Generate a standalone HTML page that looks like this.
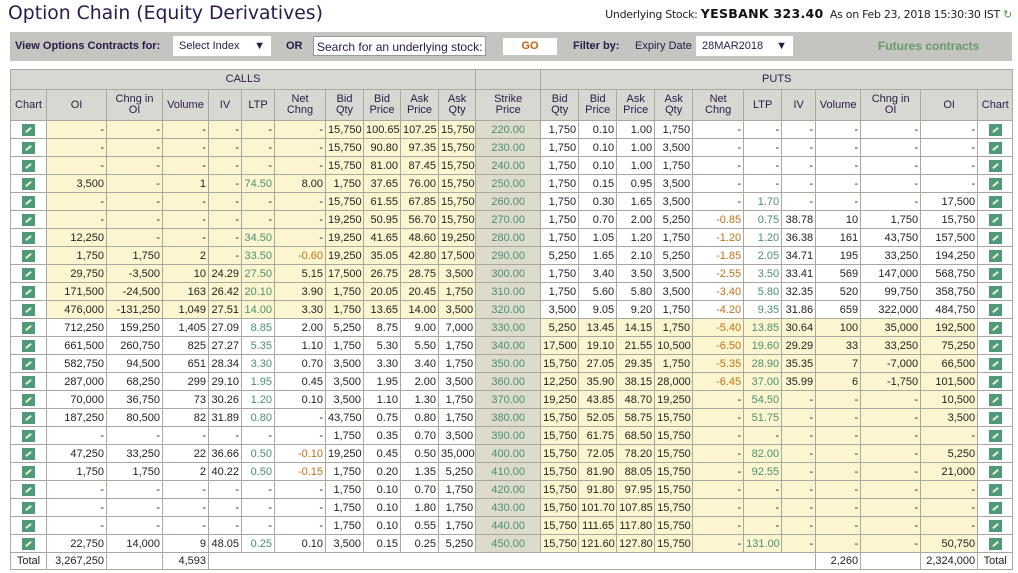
<!DOCTYPE html>
<html><head><meta charset="utf-8">
<style>
*{box-sizing:border-box}
body{margin:0;width:1018px;height:573px;overflow:hidden;background:#fff;font-family:"Liberation Sans",sans-serif;color:#222}
#title{position:absolute;left:8px;top:3px;font-size:18.8px;color:#2a1a4a;font-family:"DejaVu Sans",sans-serif}
#under{position:absolute;right:6px;top:6px;font-size:11px;color:#222;font-family:"DejaVu Sans",sans-serif;letter-spacing:-0.3px}
#under b{font-size:12.5px;color:#111;letter-spacing:.3px}
#bar{position:absolute;left:10px;top:32px;width:1002px;height:29px;background:#c4c4c0;font-size:11px;color:#2a1a4a}
.bi{position:absolute;top:0;line-height:29px;white-space:nowrap}
.box{position:absolute;top:4px;height:20px;background:#fff;line-height:20px;font-size:11px;padding-left:6px;white-space:nowrap;overflow:hidden}
table{position:absolute;left:10px;top:69px;border-collapse:collapse;table-layout:fixed;width:1002px;font-size:11px;font-family:"Liberation Sans",sans-serif}
td,th{border:1px solid #a8a8a0;padding:0 2px;height:18px;line-height:16px;text-align:right;white-space:nowrap;overflow:hidden}
th{background:#d8d8d2;color:#2a1a4a;font-weight:normal;text-align:center;line-height:11px}
tr.grp th{height:20px}
tr.hd th{height:31px}
.y{background:#fcf6d0}
.s{background:#dcdbcc;color:#4a9070;text-align:center}
.l{color:#4a9070}
.n{color:#c07018}
.ch{text-align:center;padding:0}
.ic{display:inline-block;width:13px;height:12px;background:#4e9a7a;vertical-align:middle;position:relative}
.ic:after{content:"";position:absolute;left:3px;top:5px;width:7px;height:2px;background:#e8f0d0;transform:rotate(-40deg)}
tr.tot td{height:17px;border-left:none;border-right:none}
</style></head><body>
<div id="title">Option Chain (Equity Derivatives)</div>
<div id="under">Underlying Stock: <b>YESBANK 323.40</b> &nbsp;As on Feb 23, 2018 15:30:30 IST <span style="color:#4a9a4a">↻</span></div>
<div id="bar">
<span class="bi" style="left:5px;font-weight:bold">View Options Contracts for:</span>
<div class="box" style="left:163px;width:98px">Select Index <span style="position:absolute;right:6px">▼</span></div>
<span class="bi" style="left:276px;font-weight:bold">OR</span>
<div class="box" style="left:303px;width:173px;border:1px solid #999;font-size:12px;padding-left:3px">Search for an underlying stock:</div>
<div class="box" style="left:493px;width:54px;text-align:center;padding:0;color:#c06010;font-weight:bold;top:6px;height:17px;line-height:17px">GO</div>
<span class="bi" style="left:563px;font-weight:bold">Filter by:</span>
<span class="bi" style="left:625px">Expiry Date</span>
<div class="box" style="left:686px;width:97px">28MAR2018 <span style="position:absolute;right:6px">▼</span></div>
<span class="bi" style="left:868px;color:#6a9a6a;font-weight:bold;font-size:12px">Futures contracts</span>
</div>
<table id="t">
<colgroup>
<col style="width:36px"><col style="width:60px"><col style="width:56px"><col style="width:46px"><col style="width:33px"><col style="width:33px"><col style="width:51px"><col style="width:38px"><col style="width:37px"><col style="width:38px"><col style="width:37px"><col style="width:65px"><col style="width:38px"><col style="width:38px"><col style="width:38px"><col style="width:38px"><col style="width:51px"><col style="width:38px"><col style="width:34px"><col style="width:45px"><col style="width:60px"><col style="width:57px"><col style="width:35px">
</colgroup>
<tr class="grp"><th colspan="11">CALLS</th><th></th><th colspan="11">PUTS</th></tr>
<tr class="hd">
<th>Chart</th><th>OI</th><th>Chng in<br>OI</th><th>Volume</th><th>IV</th><th>LTP</th><th>Net<br>Chng</th><th>Bid<br>Qty</th><th>Bid<br>Price</th><th>Ask<br>Price</th><th>Ask<br>Qty</th><th>Strike<br>Price</th><th>Bid<br>Qty</th><th>Bid<br>Price</th><th>Ask<br>Price</th><th>Ask<br>Qty</th><th>Net<br>Chng</th><th>LTP</th><th>IV</th><th>Volume</th><th>Chng in<br>OI</th><th>OI</th><th>Chart</th></tr>
</table>
<script>
const strikes=["220.00","230.00","240.00","250.00","260.00","270.00","280.00","290.00","300.00","310.00","320.00","330.00","340.00","350.00","360.00","370.00","380.00","390.00","400.00","410.00","420.00","430.00","440.00","450.00"];
const underlying=323.40;
const calls=[
"-,-,-,-,-,-,15750,100.65,107.25,15750",
"-,-,-,-,-,-,15750,90.80,97.35,15750",
"-,-,-,-,-,-,15750,81.00,87.45,15750",
"3500,-,1,-,74.50,8.00,1750,37.65,76.00,15750",
"-,-,-,-,-,-,15750,61.55,67.85,15750",
"-,-,-,-,-,-,19250,50.95,56.70,15750",
"12250,-,-,-,34.50,-,19250,41.65,48.60,19250",
"1750,1750,2,-,33.50,-0.60,19250,35.05,42.80,17500",
"29750,-3500,10,24.29,27.50,5.15,17500,26.75,28.75,3500",
"171500,-24500,163,26.42,20.10,3.90,1750,20.05,20.45,1750",
"476000,-131250,1049,27.51,14.00,3.30,1750,13.65,14.00,3500",
"712250,159250,1405,27.09,8.85,2.00,5250,8.75,9.00,7000",
"661500,260750,825,27.27,5.35,1.10,1750,5.30,5.50,1750",
"582750,94500,651,28.34,3.30,0.70,3500,3.30,3.40,1750",
"287000,68250,299,29.10,1.95,0.45,3500,1.95,2.00,3500",
"70000,36750,73,30.26,1.20,0.10,3500,1.10,1.30,1750",
"187250,80500,82,31.89,0.80,-,43750,0.75,0.80,1750",
"-,-,-,-,-,-,1750,0.35,0.70,3500",
"47250,33250,22,36.66,0.50,-0.10,19250,0.45,0.50,35000",
"1750,1750,2,40.22,0.50,-0.15,1750,0.20,1.35,5250",
"-,-,-,-,-,-,1750,0.10,0.70,1750",
"-,-,-,-,-,-,1750,0.10,1.80,1750",
"-,-,-,-,-,-,1750,0.10,0.55,1750",
"22750,14000,9,48.05,0.25,0.10,3500,0.15,0.25,5250"];
const puts=[
"1750,0.10,1.00,1750,-,-,-,-,-,-",
"1750,0.10,1.00,3500,-,-,-,-,-,-",
"1750,0.10,1.00,1750,-,-,-,-,-,-",
"1750,0.15,0.95,3500,-,-,-,-,-,-",
"1750,0.30,1.65,3500,-,1.70,-,-,-,17500",
"1750,0.70,2.00,5250,-0.85,0.75,38.78,10,1750,15750",
"1750,1.05,1.20,1750,-1.20,1.20,36.38,161,43750,157500",
"5250,1.65,2.10,5250,-1.85,2.05,34.71,195,33250,194250",
"1750,3.40,3.50,3500,-2.55,3.50,33.41,569,147000,568750",
"1750,5.60,5.80,3500,-3.40,5.80,32.35,520,99750,358750",
"3500,9.05,9.20,1750,-4.20,9.35,31.86,659,322000,484750",
"5250,13.45,14.15,1750,-5.40,13.85,30.64,100,35000,192500",
"17500,19.10,21.55,10500,-6.50,19.60,29.29,33,33250,75250",
"15750,27.05,29.35,1750,-5.35,28.90,35.35,7,-7000,66500",
"12250,35.90,38.15,28000,-6.45,37.00,35.99,6,-1750,101500",
"19250,43.85,48.70,19250,-,54.50,-,-,-,10500",
"15750,52.05,58.75,15750,-,51.75,-,-,-,3500",
"15750,61.75,68.50,15750,-,-,-,-,-,-",
"15750,72.05,78.20,15750,-,82.00,-,-,-,5250",
"15750,81.90,88.05,15750,-,92.55,-,-,-,21000",
"15750,91.80,97.95,15750,-,-,-,-,-,-",
"15750,101.70,107.85,15750,-,-,-,-,-,-",
"15750,111.65,117.80,15750,-,-,-,-,-,-",
"15750,121.60,127.80,15750,-,131.00,-,-,-,50750"];
const totals=["3,267,250","4,593","2,260","2,324,000"];
const qtyCallIdx=[0,1,2,6,9], qtyPutIdx=[0,3,7,8,9];
function fmt(v,isQty){if(v==="-"||!isQty)return v;return Number(v).toLocaleString("en-US");}
const t=document.getElementById('t');
function chartCell(tr){const td=document.createElement('td');td.className='ch';


td.innerHTML='<span class="ic"></span>';tr.appendChild(td);}
strikes.forEach((s,i)=>{
 const tr=document.createElement('tr');
 
 
 const k=parseFloat(s);
 chartCell(tr);
 calls[i].split(',').forEach((v,j)=>{const td=document.createElement('td');
  td.textContent=fmt(v,qtyCallIdx.includes(j));
  let c=k<underlying?'y':'';
  if(j===4&&v!=='-')c+=' l';
  if(j===5&&v.startsWith('-')&&v!=='-')c+=' n';
  td.className=c;tr.appendChild(td);});
 const st=document.createElement('td');st.className='s';st.textContent=s;
 
 
 tr.appendChild(st);
 puts[i].split(',').forEach((v,j)=>{const td=document.createElement('td');
  td.textContent=fmt(v,qtyPutIdx.includes(j));
  let c=k>underlying?'y':'';
  if(j===5&&v!=='-')c+=' l';
  if(j===4&&v.startsWith('-')&&v!=='-')c+=' n';
  td.className=c;tr.appendChild(td);});
 chartCell(tr);
 t.appendChild(tr);
});
const tr=document.createElement('tr');tr.className='tot';


const cells=["Total",totals[0],"",totals[1],"","","","","","","","","","","","","","","",totals[2],"",totals[3],"Total"];
cells.forEach((v,j)=>{const td=document.createElement('td');td.textContent=v;
 if(v!==""||j===2||j===20){td.style.borderLeft='1px solid #a8a8a0';td.style.borderRight='1px solid #a8a8a0';}
 if(v==="Total")td.style.textAlign='center';
 tr.appendChild(td);});
t.appendChild(tr);
</script>
</body></html>
